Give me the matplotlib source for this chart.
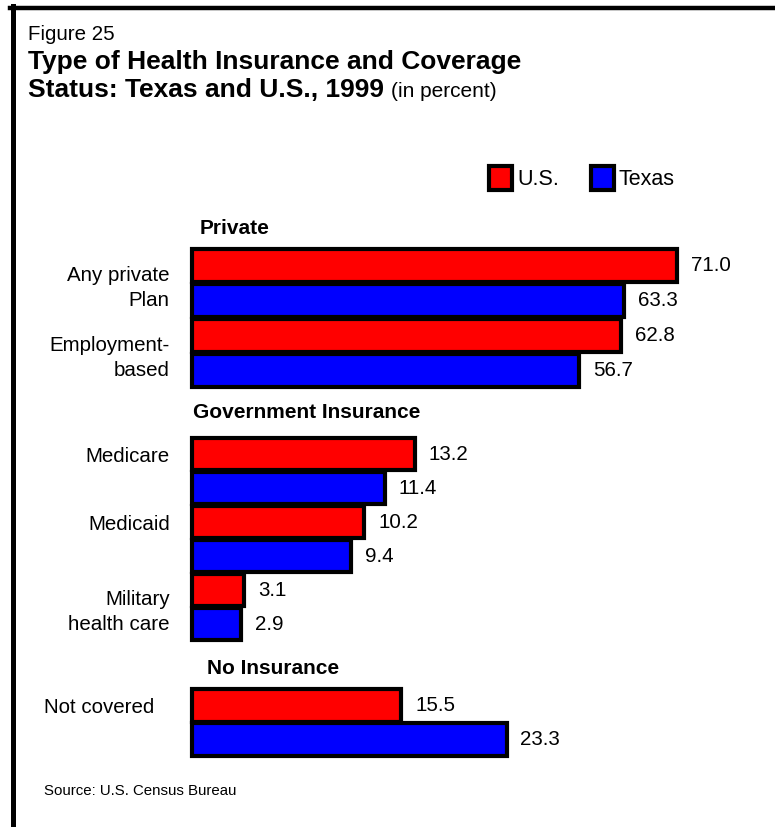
import matplotlib.pyplot as plt
from matplotlib.lines import Line2D

plt.rcParams['font.family'] = ['Liberation Sans', 'DejaVu Sans']

## data (percent)
private_labels = ["Any private\nPlan", "Employment-\nbased"]
private_us = [71.0, 62.8]
private_tx = [63.3, 56.7]

gov_labels = ["Medicare", "Medicaid", "Military\nhealth care"]
gov_us = [13.2, 10.2, 3.1]
gov_tx = [11.4, 9.4, 2.9]

none_labels = ["Not covered"]
none_us = [15.5]
none_tx = [23.3]

series_names = ["U.S.", "Texas"]

RED = "#ff0000"
BLUE = "#0000ff"
W, H = 775, 827
FS = 14.8

fig = plt.figure(figsize=(W / 100, H / 100), dpi=100)


def fx(x):
    return x / W


def fy(y):
    return 1 - y / H


def section(top, bottom, xmax, title, title_x, title_y, labels, us, tx, label_pad=16):
    n = len(labels)
    ax = fig.add_axes([fx(192), fy(bottom), fx(W - 192), (bottom - top) / H])
    pos_us = [2 * i for i in range(n)]
    pos_tx = [2 * i + 1 for i in range(n)]
    b1 = ax.barh(pos_us, us, height=0.95, color=RED, edgecolor="black",
                 linewidth=3, clip_on=False)
    b2 = ax.barh(pos_tx, tx, height=0.95, color=BLUE, edgecolor="black",
                 linewidth=3, clip_on=False)
    for p, v in zip(pos_us + pos_tx, list(us) + list(tx)):
        ax.annotate(f"{v:.1f}", xy=(v, p), xytext=(10, 0), textcoords="offset points",
                    va="center", ha="left", fontsize=FS)
    ax.set_xlim(0, xmax)
    ax.set_ylim(2 * n - 0.5, -0.5)
    ax.set_xticks([])
    ticks = [2 * i + (0.5 if "\n" in lab else 0) for i, lab in enumerate(labels)]
    ax.set_yticks(ticks)
    ax.set_yticklabels(labels, fontsize=FS)
    for t in ax.get_yticklabels():
        t.set_linespacing(1.4)
    ax.tick_params(axis="y", length=0, pad=label_pad)
    for s in ax.spines.values():
        s.set_visible(False)
    ax.patch.set_visible(False)
    fig.text(fx(title_x), fy(title_y), title, fontsize=15, fontweight="bold",
             va="center", ha="left")
    return b1, b2


b1, b2 = section(248, 388, 585 / 6.85, "Private", 200, 229,
                 private_labels, private_us, private_tx)
section(437, 641, 583 / 16.9, "Government Insurance", 193, 412,
        gov_labels, gov_us, gov_tx)
section(688, 757, 583 / 13.5, "No Insurance", 207, 669,
        none_labels, none_us, none_tx, label_pad=27)

## legend
fig.legend([b1, b2], series_names, loc="center left",
           bbox_to_anchor=(fx(489), fy(178)), frameon=False, ncol=2,
           fontsize=15.5, handlelength=1.07, handleheight=1.35,
           handletextpad=0.25, columnspacing=1.45, borderpad=0, borderaxespad=0)

## titles
fig.text(fx(28), fy(35), "Figure 25", fontsize=14.8, va="center", ha="left")
fig.text(fx(28), fy(62), "Type of Health Insurance and Coverage", fontsize=19,
         fontweight="bold", va="center", ha="left")
t2 = fig.text(fx(28), fy(97), "Status: Texas and U.S., 1999", fontsize=19,
              fontweight="bold", va="baseline", ha="left")
fig.canvas.draw()
bb = t2.get_window_extent()
fig.text((bb.x1 + 7) / W, fy(97), "(in percent)", fontsize=15,
         va="baseline", ha="left")

fig.text(fx(44), fy(791), "Source: U.S. Census Bureau", fontsize=10.8,
         va="center", ha="left")

## frame lines (left and top)
fig.add_artist(Line2D([fx(12.5), fx(12.5)], [fy(6), 0], color="black", linewidth=3.6))
fig.add_artist(Line2D([fx(10), 1], [fy(8), fy(8)], color="black", linewidth=3.2))

plt.savefig("out.png", dpi=100)
